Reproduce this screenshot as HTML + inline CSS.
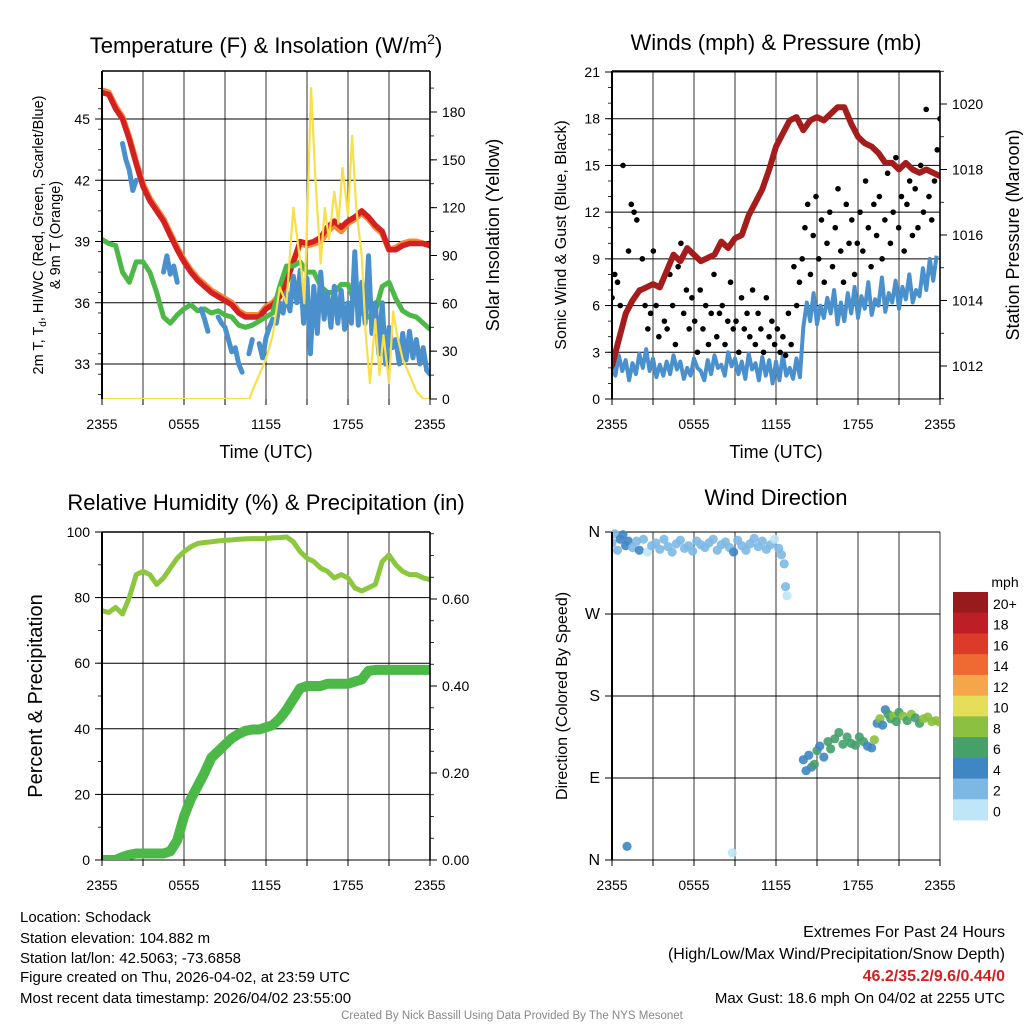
<!DOCTYPE html>
<html><head><meta charset="utf-8">
<style>
html,body{margin:0;padding:0;background:#fff;}
svg{display:block;font-family:"Liberation Sans",Arial,sans-serif;}
</style></head>
<body>
<svg id="chart" width="1024" height="1024" viewBox="0 0 1024 1024" xmlns="http://www.w3.org/2000/svg">
<defs>
<clipPath id="c1"><rect x="102" y="71" width="328" height="328"/></clipPath>
<clipPath id="c2"><rect x="612" y="71" width="328" height="328"/></clipPath>
<clipPath id="c3"><rect x="102" y="532" width="328" height="328"/></clipPath>
<clipPath id="c4"><rect x="612" y="528" width="328" height="336"/></clipPath>
</defs>
<rect x="0" y="0" width="1024" height="1024" fill="#fff"/>
<g id="grids"></g>
<g id="marks"></g>
<g id="axes"></g>
<!-- titles -->
<text x="266" y="53" font-size="22" text-anchor="middle">Temperature (F) &amp; Insolation (W/m<tspan dy="-9" font-size="14">2</tspan><tspan dy="9">)</tspan></text>
<text x="776" y="50" font-size="22" text-anchor="middle">Winds (mph) &amp; Pressure (mb)</text>
<text x="266" y="510" font-size="22" text-anchor="middle">Relative Humidity (%) &amp; Precipitation (in)</text>
<text x="776" y="505" font-size="22" text-anchor="middle">Wind Direction</text>
<!-- axis titles -->
<text x="266" y="458" font-size="18" text-anchor="middle">Time (UTC)</text>
<text x="776" y="458" font-size="18" text-anchor="middle">Time (UTC)</text>
<g transform="translate(43,235) rotate(-90)">
<text x="0" y="0" font-size="14.5" text-anchor="middle">2m T, T<tspan font-size="10" dy="3">d</tspan><tspan dy="-3">, HI/WC (Red, Green, Scarlet/Blue)</tspan></text>
<text x="0" y="17" font-size="14.5" text-anchor="middle">&amp; 9m T (Orange)</text>
</g>
<text transform="translate(499,235) rotate(-90)" font-size="18" text-anchor="middle">Solar Insolation (Yellow)</text>
<text transform="translate(566,235) rotate(-90)" font-size="16" text-anchor="middle">Sonic Wind &amp; Gust (Blue, Black)</text>
<text transform="translate(1019,235) rotate(-90)" font-size="18" text-anchor="middle">Station Pressure (Maroon)</text>
<text transform="translate(42,696) rotate(-90)" font-size="20" text-anchor="middle">Percent &amp; Precipitation</text>
<text transform="translate(567,696) rotate(-90)" font-size="16" text-anchor="middle">Direction (Colored By Speed)</text>
<!-- colorbar -->
<g id="colorbar"></g>
<text x="1005" y="587" font-size="14" text-anchor="middle">mph</text>
<!-- footer -->
<g font-size="15">
<text x="20" y="922">Location: Schodack</text>
<text x="20" y="943">Station elevation: 104.882 m</text>
<text x="20" y="963">Station lat/lon: 42.5063; -73.6858</text>
<text x="20" y="982">Figure created on Thu, 2026-04-02, at 23:59 UTC</text>
<text x="20" y="1003">Most recent data timestamp: 2026/04/02 23:55:00</text>
</g>
<g font-size="15" text-anchor="end">
<text x="1005" y="937" font-size="16">Extremes For Past 24 Hours</text>
<text x="1005" y="959" font-size="16">(High/Low/Max Wind/Precipitation/Snow Depth)</text>
<text x="1005" y="981" font-size="16" font-weight="bold" fill="#d42020">46.2/35.2/9.6/0.44/0</text>
<text x="1005" y="1003">Max Gust: 18.6 mph On 04/02 at 2255 UTC</text>
</g>
<text x="512" y="1019" font-size="11.5" fill="#888" text-anchor="middle">Created By Nick Bassill Using Data Provided By The NYS Mesonet</text>
</svg>
<script>
// ---------- data ----------
const timeTickLabels = ["2355","0555","1155","1755","2355"];
const tempTickLabels = ["33","36","39","42","45"];
const solarTickLabels = ["0","30","60","90","120","150","180"];
const windTickLabels = ["0","3","6","9","12","15","18","21"];
const pressTickLabels = ["1012","1014","1016","1018","1020"];
const pctTickLabels = ["0","20","40","60","80","100"];
const precipTickLabels = ["0.00","0.20","0.40","0.60"];
const dirTickLabels = ["N","E","S","W","N"];
const speedBinLabels = ["0","2","4","6","8","10","12","14","16","18","20+"];
const speedBinColors = ["#bfe6f7","#7db8e4","#3f86c4","#45a06a","#8cc040","#e4de58","#f6a64a","#ef6a33","#dd3b2a","#be1f26","#981a1d"];

// half-hourly series (0..24 h)
const tempF = [46.3,46.2,45.5,45,44,42.8,41.7,41,40.5,40,39.3,38.6,38,37.5,37.1,36.8,36.5,36.3,36.1,35.9,35.5,35.3,35.3,35.3,35.7,35.9,36.3,37,38,39,38.9,39,39.2,39.7,40,39.7,40,40.2,40.5,40.2,39.8,39.5,38.6,38.6,38.8,38.9,38.9,38.9,38.8];
const temp9mF = [46.4,46.3,45.6,45.1,44.1,42.9,41.8,41.1,40.6,40.1,39.4,38.7,38.1,37.6,37.2,36.9,36.6,36.4,36.2,36,35.6,35.4,35.4,35.4,35.8,36,36.4,37.1,38,38.9,38.8,38.9,39,39.5,39.8,39.5,39.9,40.1,40.4,40.1,39.7,39.4,38.6,38.7,38.9,39,39,38.9,38.8];
const dewF = [39.1,38.9,38.8,37.5,37,38,38,37.5,36.5,35.3,35,35.4,35.7,35.9,35.6,35.7,35.5,35.6,35.4,35.3,34.9,34.8,34.9,35.1,35.3,35.5,36.8,37.8,37.8,38,37.5,37.5,36.8,36.5,36.5,36.9,36.9,36,35.5,35.3,35.6,36.8,37,36.2,35.6,35.4,35.3,35,34.7];
// quarter-hourly wind chill (null = missing)
const windChillF = [null,null,null,null,null,null,43.8,43.0,42.5,41.5,42.0,null,null,null,null,null,null,null,37.5,38.3,37.4,37.8,37.0,null,null,36.3,null,null,null,
35.7,35.2,34.6,null,null,35.3,35.0,34.8,34.2,33.6,33.8,33.0,32.6,null,33.5,34.2,null,34.0,33.3,34.3,34.8,35.2,35.0,36.0,35.5,36.5,35.6,37.3,36.0,37.6,35.0,37.2,33.5,36.8,34.5,37.5,35.2,36.5,34.8,36.8,35.0,36.6,34.7,36.0,35.0,38.5,34.9,37.0,35.0,38.3,34.5,36.0,33.5,36.0,33.0,34.8,33.8,34.2,33.0,34.5,33.2,34.6,33.3,34.2,33.0,33.8,32.7,32.5];
const solarHours = [0,10.8,11,11.5,12,12.5,13,13.5,14,14.3,14.6,14.8,15,15.3,15.6,16,16.3,16.6,17,17.3,17.6,18,18.3,18.6,19,19.3,19.6,20,20.3,20.6,21,21.3,21.6,22,22.5,23,23.5,24];
const solarWm2 = [0,0,5,15,25,40,70,60,120,100,80,60,110,195,140,85,120,100,130,110,145,115,165,120,90,40,10,50,15,40,10,55,40,25,15,5,0,0];
const pressureMb = [1012.0,1012.8,1013.6,1014.0,1014.3,1014.4,1014.5,1014.4,1014.9,1015.4,1015.2,1015.6,1015.4,1015.2,1015.3,1015.4,1015.8,1015.6,1015.9,1016.0,1016.6,1017.0,1017.4,1018.0,1018.7,1019.1,1019.5,1019.6,1019.2,1019.5,1019.6,1019.5,1019.7,1019.9,1019.9,1019.4,1019.0,1018.8,1018.7,1018.5,1018.2,1018.2,1018.0,1018.2,1018.0,1017.9,1018.0,1017.9,1017.8];
const windMph = [2.0,1.5,2.8,1.8,2.5,1.2,2.3,1.6,2.9,2.0,3.2,1.8,2.6,1.4,2.2,1.5,
2.4,1.6,2.8,1.9,2.4,1.3,2.0,1.5,2.6,2.0,1.8,1.2,2.5,1.6,2.8,2.0,
2.2,1.5,3.0,2.1,2.6,1.6,2.4,1.3,2.9,1.9,2.3,1.2,2.7,1.5,2.5,1.0,
2.4,1.2,2.8,1.5,2.0,1.3,2.6,1.4,4.6,6.2,5.0,6.8,4.8,6.0,5.2,6.5,
5.5,7.0,4.8,6.2,5.0,6.8,5.5,7.2,5.2,6.6,5.8,7.5,5.4,6.4,6.0,7.8,
5.6,6.8,6.2,7.6,5.8,7.2,6.4,8.0,6.2,7.0,6.6,8.4,7.0,9.0,7.6,9.2];
const gustMph = [6.5,8.0,7.5,6.0,15.0,5.5,9.5,12.5,12.0,11.5,7.0,
9.0,6.0,4.5,5.5,9.5,6.0,4.0,7.5,5.0,
4.5,8.0,6.0,3.5,8.5,10.0,5.5,7.0,4.5,6.5,
5.0,3.0,7.0,4.5,6.0,3.5,5.5,8.0,4.0,5.5,
6.0,3.5,5.0,7.5,4.5,5.0,3.0,6.5,4.5,5.5,
4.0,7.0,3.5,5.5,4.5,3.0,6.5,4.0,5.0,3.5,
4.5,3.0,4.0,2.8,5.5,3.5,8.5,6.0,7.5,9.0,
11.0,12.5,8.0,10.5,13.0,9.0,11.5,7.5,10.0,12.0,
8.5,11.0,13.5,9.5,7.5,12.5,10.0,11.5,8.0,10.0,
12.0,9.5,14.0,11.0,8.5,12.5,10.5,13.0,9.0,11.5,
14.5,10.0,12.0,15.5,11.0,13.0,9.5,12.5,14.0,10.5,
13.5,11.0,15.0,12.0,18.6,13.0,11.5,14.0,16.0,18.0];
const rhPct = [76,75.5,77,75,80,87,88,87,84,86,89,92,94,95.5,96.5,96.8,97,97.3,97.5,97.6,97.8,97.9,98,98,98,98.2,98.3,98.5,97,94,92,91,89,88,86,87,86,83,82,83,84,91,93,90,88,87,87,86,85.5];
const precipIn = [0,0,0,0.007,0.012,0.015,0.015,0.015,0.015,0.015,0.02,0.045,0.10,0.14,0.17,0.20,0.235,0.25,0.265,0.28,0.29,0.297,0.30,0.30,0.305,0.31,0.325,0.345,0.37,0.395,0.40,0.40,0.40,0.405,0.405,0.405,0.405,0.41,0.415,0.435,0.437,0.437,0.437,0.437,0.437,0.437,0.437,0.437,0.437];
const dirHours = [0,0.2,0.4,0.6,0.8,1.0,1.2,1.5,1.8,2.0,2.3,2.6,2.9,3.2,3.5,3.8,4.1,4.4,4.7,5.0,5.3,5.6,5.9,6.2,6.5,6.8,7.1,7.4,7.7,8.0,8.3,8.6,8.9,9.2,9.5,9.8,10.1,10.4,10.7,11.0,11.3,11.6,11.9,12.2,12.4,12.6,12.7,12.8,1.1,8.8,
14.0,14.2,14.4,14.6,14.8,15.0,15.2,15.5,15.8,16.0,16.3,16.6,16.9,17.2,17.5,17.8,18.1,18.4,18.7,19.0,19.2,19.4,19.6,19.8,20.0,20.2,20.4,20.6,20.8,21.0,21.3,21.6,21.9,22.2,22.5,22.8,23.1,23.4,23.7,24.0];
const dirDeg = [348,358,340,352,357,345,350,343,350,340,352,338,345,348,341,352,344,338,347,351,342,345,339,350,346,343,348,352,340,346,349,343,338,351,345,340,347,353,344,350,341,346,352,342,335,325,300,290,15,8,
110,98,115,102,105,120,125,113,130,122,133,140,127,135,128,126,135,130,125,123,132,150,155,148,165,160,155,158,152,162,158,153,160,156,150,155,157,152,153,151];
const dirSpeed = [3,2.5,3,4.5,4.5,5,4.5,3,3,4,3,1.5,3,2.5,3,2.5,3,2.5,3,2.5,3,3,3,2,3,3,3,2,3,2.5,3,3,4.5,3,2.5,3,2.5,2,3,2.5,3,3,1.5,3,3,2.5,2,1.5,4,1,
4.5,4,5,4.5,7,7,5,4.5,6.5,7,6,7,6,6.5,7,6,7,6,4.5,5,8,4.5,8.5,5,4.5,6.5,7,8.5,7,6.5,8,7,8.5,7,6.5,8.5,8.5,9,8.5,8.5];

// ---------- scales ----------
const NS="http://www.w3.org/2000/svg";
const xL = h => 102 + h*328/24;
const xR = h => 612 + h*328/24;
const yTemp = v => 119 + (45 - v)*245/12;
const ySolar = v => 399 - v*(399-112)/180;
const yWind = v => 399 - v*(399-72)/21;
const yPress = v => 104 + (1020 - v)*(366-104)/8;
const yPct = v => 860 - v*3.28;
const yPrecip = v => 860 - v*435;
const yDir = v => 860 - v*328/360;

function el(tag, attrs, parent){
  const e=document.createElementNS(NS,tag);
  for(const k in attrs) e.setAttribute(k,attrs[k]);
  parent.appendChild(e); return e;
}
const grids=document.getElementById('grids');
const marks=document.getElementById('marks');
const axes=document.getElementById('axes');

function linePath(vals, step, xf, yf){
  let d="", pen=false;
  vals.forEach((v,i)=>{
    if(v===null||v===undefined){pen=false;return;}
    const x=xf(i*step), y=yf(v);
    d += (pen?"L":"M")+x.toFixed(1)+" "+y.toFixed(1)+" ";
    pen=true;
  });
  return d;
}
function xyPath(hs, vals, xf, yf){
  return hs.map((h,i)=>(i?"L":"M")+xf(h).toFixed(1)+" "+yf(vals[i]).toFixed(1)).join(" ");
}

// ---------- panel frames, grids, ticks ----------
function panel(x0,y0,name){
  for(let h=0;h<=24;h+=3){
    const x=x0+h*328/24;
    const g=el('line',{x1:x,y1:y0,x2:x,y2:y0+328,stroke:'#555','stroke-width':1.2},grids);
    
    
    const t=el('line',{x1:x,y1:y0+328,x2:x,y2:y0+334,stroke:'#000','stroke-width':1},axes);
    
    
  }
  timeTickLabels.forEach((lab,i)=>{
    const tx=el('text',{x:x0+i*6*328/24,y:y0+358,'font-size':14,'text-anchor':'middle'},axes);
    tx.textContent=lab;
    
    
  });
  const l=el('line',{x1:x0,y1:y0,x2:x0,y2:y0+328,stroke:'#000','stroke-width':2},axes);
  
  
}
panel(102,71,'temperature');
panel(612,71,'winds');
panel(102,532,'humidity');
panel(612,532,'direction');

function hGrid(x0,y,name){
  const g=el('line',{x1:x0,y1:y,x2:x0+328,y2:y,stroke:'#000','stroke-width':1},grids);
  
  
}
function yTicks(xAxis, side, labels, values, scale, minorStep, lo, hi, name, grid, x0, fs){
  values.forEach((v,i)=>{
    const y=scale(v);
    const dir=side==='left'?-1:1;
    const t=el('line',{x1:xAxis,y1:y,x2:xAxis+dir*7,y2:y,stroke:'#000','stroke-width':1},axes);
    
    
    const tx=el('text',{x:xAxis+dir*12,y:y+5,'font-size':fs||14,'text-anchor':side==='left'?'end':'start'},axes);
    tx.textContent=labels[i];
    
    
    if(grid) hGrid(x0,y,name);
  });
  if(minorStep){
    for(let v=lo; v<=hi+1e-9; v+=minorStep){
      const y=scale(v); const dir=side==='left'?-1:1;
      const t=el('line',{x1:xAxis,y1:y,x2:xAxis+dir*4,y2:y,stroke:'#000','stroke-width':0.8},axes);
      
      
    }
  }
}
yTicks(102,'left',tempTickLabels,tempTickLabels.map(Number),yTemp,1,31.5,47,'temperature-y',true,102);
yTicks(430,'right',solarTickLabels,solarTickLabels.map(Number),ySolar,15,0,195,'insolation-y',false);
yTicks(612,'left',windTickLabels,windTickLabels.map(Number),yWind,1,0,21,'wind-y',true,612);
yTicks(940,'right',pressTickLabels,pressTickLabels.map(Number),yPress,1,1011,1021,'pressure-y',false);
yTicks(102,'left',pctTickLabels,pctTickLabels.map(Number),yPct,10,0,100,'percent-y',true,102);
yTicks(430,'right',precipTickLabels,precipTickLabels.map(Number),yPrecip,0.05,0,0.75,'precip-y',false);
yTicks(612,'left',dirTickLabels,[0,90,180,270,360],yDir,0,0,0,'direction-y',true,612,16);

// right axis lines
[[430,71,399],[940,71,399],[430,532,860]].forEach(a=>{
  const r=el('line',{x1:a[0],y1:a[1],x2:a[0],y2:a[2],stroke:'#000','stroke-width':1.5},axes);
  
  
});
// top borders
[[102,71],[612,71],[102,532]].forEach(a=>{
  const r=el('line',{x1:a[0],y1:a[1],x2:a[0]+328,y2:a[1],stroke:'#000','stroke-width':1.5},axes);
  
  
});

// ---------- panel 1 ----------
const g1=el('g',{'clip-path':'url(#c1)'},marks);


let p;
p=el('path',{d:linePath(temp9mF,0.5,xL,yTemp),fill:'none',stroke:'#f68a3a','stroke-width':6,'stroke-linejoin':'round','stroke-linecap':'round'},g1);


p=el('path',{d:linePath(tempF,0.5,xL,yTemp),fill:'none',stroke:'#d42020','stroke-width':5.5,'stroke-linejoin':'round','stroke-linecap':'round'},g1);


p=el('path',{d:linePath(dewF,0.5,xL,yTemp),fill:'none',stroke:'#4cb848','stroke-width':5,'stroke-linejoin':'round','stroke-linecap':'round'},g1);


p=el('path',{d:linePath(windChillF,0.25,xL,yTemp),fill:'none',stroke:'#4a90cd','stroke-width':5,'stroke-linejoin':'round','stroke-linecap':'round'},g1);


p=el('path',{d:xyPath(solarHours,solarWm2,xL,ySolar),fill:'none',stroke:'#f9df4a','stroke-width':2.2,'stroke-linejoin':'round'},g1);



// ---------- panel 2 ----------
const g2=el('g',{'clip-path':'url(#c2)'},marks);


p=el('path',{d:linePath(windMph,0.25,xR,yWind),fill:'none',stroke:'#4a90cd','stroke-width':4,'stroke-linejoin':'round'},g2);


gustMph.forEach((v,i)=>{
  const h=i*24/(gustMph.length-1);
  const c=el('circle',{cx:xR(h),cy:yWind(v),r:2.8,fill:'#000'},g2);
  
  
});
p=el('path',{d:linePath(pressureMb,0.5,xR,yPress),fill:'none',stroke:'#a51c1c','stroke-width':6,'stroke-linejoin':'round','stroke-linecap':'round'},g2);



// ---------- panel 3 ----------
const g3=el('g',{'clip-path':'url(#c3)'},marks);


p=el('path',{d:linePath(rhPct,0.5,xL,yPct),fill:'none',stroke:'#8dc63f','stroke-width':5,'stroke-linejoin':'round','stroke-linecap':'round'},g3);


p=el('path',{d:linePath(precipIn,0.5,xL,yPrecip),fill:'none',stroke:'#4cb848','stroke-width':10,'stroke-linejoin':'round','stroke-linecap':'round'},g3);



// ---------- panel 4 ----------
const g4=el('g',{'clip-path':'url(#c4)'},marks);


function speedColor(s){ const i=Math.min(10,Math.floor(s/2)); return speedBinColors[i]; }
dirHours.forEach((h,i)=>{
  const c=el('circle',{cx:xR(h),cy:yDir(dirDeg[i]),r:4.6,fill:speedColor(dirSpeed[i]),'fill-opacity':0.9},g4);
  
  
});

// ---------- colorbar ----------
const cb=document.getElementById('colorbar');
const cbTop=592, cbH=228/11;
speedBinColors.slice().reverse().forEach((col,i)=>{
  const r=el('rect',{x:953,y:cbTop+i*cbH,width:35,height:cbH+0.5,fill:col},cb);
  
  
});
speedBinLabels.slice().reverse().forEach((lab,i)=>{
  const t=el('text',{x:993,y:cbTop+i*cbH+17,'font-size':14},cb);
  t.textContent=lab;
  
  
});
</script>
</body></html>
